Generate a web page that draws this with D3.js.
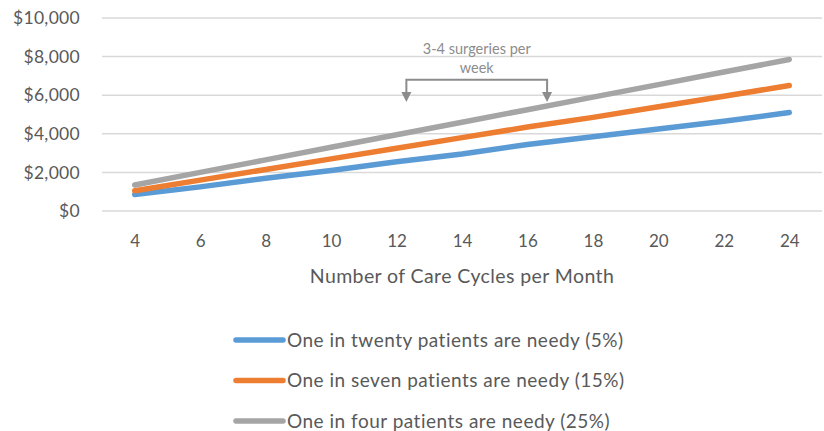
<!DOCTYPE html>
<html>
<head>
<meta charset="utf-8">
<script src="https://cdn.jsdelivr.net/npm/d3@7"></script>
<style>
  body { margin: 0; background: #fff; }
  text { font-family: Lato, "Open Sans", sans-serif; fill: #595959; }
</style>
</head>
<body>
<div id="container"></div>
<script>
// chart data
const cycles = [4, 6, 8, 10, 12, 14, 16, 18, 20, 22, 24];
const needy5 = [850, 1250, 1700, 2100, 2550, 2950, 3450, 3850, 4250, 4650, 5100];
const needy15 = [1050, 1600, 2150, 2700, 3250, 3800, 4350, 4850, 5400, 5950, 6500];
const needy25 = [1350, 2000, 2650, 3300, 3950, 4600, 5250, 5900, 6550, 7200, 7850];
const seriesNames = [
    "One in twenty patients are needy (5%)",
    "One in seven patients are needy (15%)",
    "One in four patients are needy (25%)"
];
const yTicks = [0, 2000, 4000, 6000, 8000, 10000];
const bracketFrom = 12.3, bracketTo = 16.6;   // 3-4 surgeries per week

const colors = ["#5B9BD5", "#ED7D31", "#A5A5A5"];
const series = [needy5, needy15, needy25];

const width = 824, height = 431;
const margin = { top: 18, right: 2, bottom: 220, left: 102 };
const innerW = width - margin.left - margin.right;
const innerH = height - margin.top - margin.bottom;

const svg = d3.select("#container")
    .append("svg")
    .attr("width", width)
    .attr("height", height);

const g = svg.append("g")
    .attr("transform", "translate(" + margin.left + "," + margin.top + ")");

// scales
const xScale = d3.scalePoint()
    .domain(cycles)
    .range([0, innerW])
    .padding(0.5);

const yScale = d3.scaleLinear()
    .domain([0, 10000])
    .range([innerH, 0]);

// gridlines
g.append("g")
    .selectAll("line")
    .data(yTicks)
    .enter()
    .append("line")
    .attr("x1", 0)
    .attr("x2", innerW)
    .attr("y1", d => yScale(d))
    .attr("y2", d => yScale(d))
    .attr("stroke", "#D9D9D9")
    .attr("stroke-width", 1.5);

// y axis labels
const yAxis = g.append("g")
    .call(d3.axisLeft(yScale).tickValues(yTicks).tickSize(0).tickPadding(22)
        .tickFormat(d => "$" + d3.format(",")(d)));
yAxis.select(".domain").remove();
yAxis.selectAll("text").style("font-size", "17.5px").style("letter-spacing", "0.3px");

// x axis labels
const xAxis = g.append("g")
    .attr("transform", "translate(0," + innerH + ")")
    .call(d3.axisBottom(xScale).tickSize(0).tickPadding(24));
xAxis.select(".domain").remove();
xAxis.selectAll("text").style("font-size", "17px");

g.append("text")
    .attr("x", (xScale(4) + xScale(24)) / 2)
    .attr("y", innerH + 72)
    .attr("text-anchor", "middle")
    .style("font-size", "19.5px")
    .style("letter-spacing", "0.4px")
    .text("Number  of Care Cycles  per Month");

// lines
const line = d3.line()
    .x((d, i) => xScale(cycles[i]))
    .y(d => yScale(d));

g.append("g")
    .selectAll("path")
    .data(series)
    .enter()
    .append("path")
    .attr("fill", "none")
    .attr("stroke", (d, i) => colors[i])
    .attr("stroke-width", 5.5)
    .attr("stroke-linecap", "round")
    .attr("stroke-linejoin", "round")
    .attr("d", d => line(d));

// annotation bracket
const step = xScale.step();
const bx = v => xScale(4) + (v - 4) / 2 * step;
const bx1 = bx(bracketFrom), bx2 = bx(bracketTo);
const bTop = yScale(6800), bBot = yScale(5700);
const annColor = "#8C8C8C";

g.append("path")
    .attr("fill", "none")
    .attr("stroke", annColor)
    .attr("stroke-width", 2)
    .attr("d", "M" + bx1 + "," + (bBot - 6) + "V" + bTop + "H" + bx2 + "V" + (bBot - 6));

[bx1, bx2].forEach(x => {
    g.append("path")
        .attr("fill", annColor)
        .attr("d", "M" + (x - 5) + "," + (bBot - 9) + "L" + (x + 5) + "," + (bBot - 9) + "L" + x + "," + (bBot + 1) + "Z");
});

g.append("text")
    .attr("x", (bx1 + bx2) / 2)
    .attr("y", yScale(8000) - 3)
    .attr("text-anchor", "middle")
    .style("font-size", "14.5px")
    .style("fill", annColor)
    .text("3-4 surgeries per");
g.append("text")
    .attr("x", (bx1 + bx2) / 2)
    .attr("y", yScale(8000) + 16)
    .attr("text-anchor", "middle")
    .style("font-size", "14.5px")
    .style("fill", annColor)
    .text("week");

// legend
const legend = svg.append("g")
    .selectAll("g")
    .data(seriesNames)
    .enter()
    .append("g")
    .attr("transform", (d, i) => "translate(236," + (340 + i * 40.5) + ")");

legend.append("line")
    .attr("x1", 0)
    .attr("x2", 47)
    .attr("stroke", (d, i) => colors[i])
    .attr("stroke-width", 5.5)
    .attr("stroke-linecap", "round");

legend.append("text")
    .attr("x", 51)
    .attr("dy", "0.35em")
    .style("font-size", "19px")
    .style("letter-spacing", "0.5px")
    .text(d => d);
</script>
</body>
</html>
